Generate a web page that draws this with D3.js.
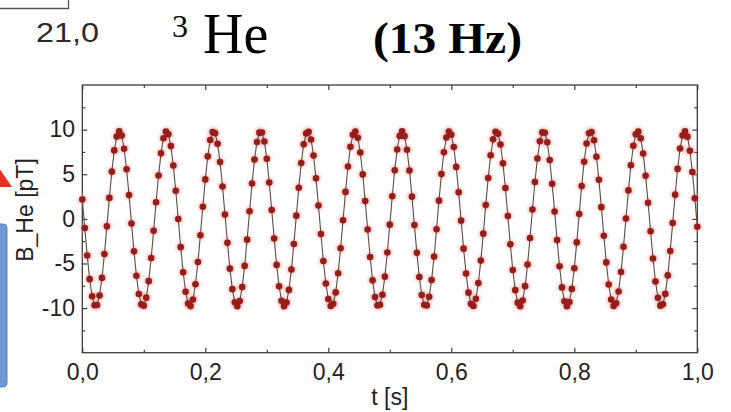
<!DOCTYPE html>
<html>
<head>
<meta charset="utf-8">
<script src="https://cdn.jsdelivr.net/npm/d3@7"></script>
<style>
  html, body { margin: 0; padding: 0; background: #fff; }
  svg { display: block; }
</style>
</head>
<body>
<svg id="chart" width="731" height="412"></svg>
<script>
// 3He precession signal, sampled every 4 ms (250 Hz) over one second
const sampleStep = 0.004;
const bHe = [
  2.17, -1.02, -4.10, -6.76, -8.68, -9.68, -9.65, -8.59, -6.62, -3.94, -0.84, 2.35, 5.29, 7.67, 9.22, 9.80, 9.33, 7.86, 5.56,
  2.66, -0.52, -3.64, -6.38, -8.43, -9.59, -9.73, -8.83, -6.98, -4.39, -1.34, 1.86, 4.86, 7.34, 9.04, 9.78, 9.47, 8.15, 5.97,
  3.15, -0.01, -3.17, -5.99, -8.17, -9.48, -9.78, -9.03, -7.33, -4.84, -1.84, 1.36, 4.42, 7.00, 8.84, 9.73, 9.59, 8.42, 6.36,
  3.62, 0.49, -2.69, -5.58, -7.88, -9.34, -9.80, -9.22, -7.65, -5.27, -2.33, 0.86, 3.96, 6.64, 8.61, 9.66, 9.68, 8.67, 6.73,
  4.08, 1.00, -2.20, -5.16, -7.56, -9.17, -9.80, -9.38, -7.96, -5.69, -2.82, 0.36, 3.49, 6.26, 8.35, 9.56, 9.75, 8.89, 7.09,
  4.54, 1.50, -1.70, -4.72, -7.24, -8.98, -9.77, -9.51, -8.24, -6.09, -3.30, -0.15, 3.02, 5.86, 8.08, 9.43, 9.79, 9.09, 7.43,
  4.98, 1.99, -1.20, -4.27, -6.89, -8.77, -9.71, -9.62, -8.50, -6.48, -3.77, -0.65, 2.53, 5.45, 7.78, 9.29, 9.80, 9.27, 7.75,
  5.41, 2.49, -0.70, -3.81, -6.52, -8.53, -9.63, -9.70, -8.74, -6.85, -4.23, -1.16, 2.04, 5.02, 7.46, 9.11, 9.79, 9.42, 8.05,
  5.82, 2.97, -0.20, -3.34, -6.13, -8.27, -9.52, -9.76, -8.96, -7.20, -4.68, -1.66, 1.54, 4.58, 7.12, 8.91, 9.75, 9.55, 8.33,
  6.22, 3.45, 0.31, -2.86, -5.73, -7.99, -9.39, -9.79, -9.15, -7.54, -5.12, -2.15, 1.04, 4.13, 6.77, 8.69, 9.69, 9.65, 8.58,
  6.60, 3.92, 0.81, -2.38, -5.31, -7.68, -9.23, -9.80, -9.32, -7.85, -5.54, -2.64, 0.54, 3.67, 6.40, 8.45, 9.60, 9.72, 8.81,
  6.96, 4.37, 1.31, -1.89, -4.88, -7.36, -9.05, -9.78, -9.46, -8.14, -5.95, -3.12, 0.04, 3.19, 6.01, 8.18, 9.48, 9.77, 9.02,
  7.31, 4.82, 1.81, -1.39, -4.44, -7.02, -8.85, -9.73, -9.58, -8.41, -6.34, -3.60, -0.47, 2.71, 5.60, 7.89, 9.34, 9.80, 9.21,
  7.64, 5.25, 2.31, -0.88
];

// axis ticks
const xTickValues = [0, 0.2, 0.4, 0.6, 0.8, 1.0];
const xTickLabels = ["0,0", "0,2", "0,4", "0,6", "0,8", "1,0"];
const xMinorTicks = [0.1, 0.3, 0.5, 0.7, 0.9];
const yTickValues = [-10, -5, 0, 5, 10];
const yTickLabels = ["-10", "-5", "0", "5", "10"];
const yMinorTicks = [-12.5, -7.5, -2.5, 2.5, 7.5, 12.5];

const svg = d3.select("#chart");
const plotLeft = 82.3, plotRight = 697.3, plotTop = 85, plotBottom = 352.7;

const x = d3.scaleLinear().domain([0, 1]).range([plotLeft, plotRight]);
const y = d3.scaleLinear().domain([-15, 15]).range([plotBottom, plotTop]);

const sansFont = "'Liberation Sans', Arial, sans-serif";
const serifFont = "'Liberation Serif', 'Times New Roman', serif";

// halo filter for the markers
const defs = svg.append("defs");
defs.append("filter").attr("id", "halo").attr("x", "-50%").attr("y", "-50%")
  .attr("width", "200%").attr("height", "200%")
  .append("feGaussianBlur").attr("stdDeviation", 1.6);

// fragments of neighbouring panel elements
svg.append("path")
  .attr("d", "M0,8.5 H68.5 V0")
  .attr("fill", "none").attr("stroke", "#555").attr("stroke-width", 1.3);
svg.append("text")
  .attr("x", 36).attr("y", 42)
  .attr("font-family", sansFont).attr("font-size", 27).attr("fill", "#2a2a2a")
  .attr("textLength", 63).attr("lengthAdjust", "spacingAndGlyphs")
  .text("21,0");
svg.append("path")
  .attr("d", "M-3,165 L12,187 L-3,187 Z")
  .attr("fill", "#e8321e");
svg.append("rect")
  .attr("x", -10).attr("y", 224).attr("width", 17).attr("height", 163).attr("rx", 4)
  .attr("fill", "#6f98d3").attr("stroke", "#5a82c0").attr("stroke-width", 1);

// title
svg.append("text")
  .attr("x", 172).attr("y", 37)
  .attr("font-family", serifFont).attr("font-size", 32).attr("fill", "#000")
  .text("3");
svg.append("text")
  .attr("x", 203).attr("y", 53)
  .attr("font-family", serifFont).attr("font-size", 56).attr("fill", "#000")
  .text("He");
svg.append("text")
  .attr("x", 373).attr("y", 53)
  .attr("font-family", serifFont).attr("font-size", 45).attr("font-weight", "bold").attr("fill", "#000")
  .attr("textLength", 149).attr("lengthAdjust", "spacingAndGlyphs")
  .text("(13 Hz)");

// axes: ticks point inward on all four sides
const axisColor = "#3c3c3c";
function styleAxis(g) {
  g.select(".domain").remove();
  g.selectAll(".tick line").attr("stroke", axisColor).attr("stroke-width", 1.2);
  g.selectAll(".tick text").attr("fill", "#222").attr("font-family", sansFont).attr("font-size", 23);
}

svg.append("g").attr("transform", `translate(0,${plotBottom})`)
  .call(d3.axisBottom(x).tickValues(xTickValues).tickSize(-5).tickPadding(11)
    .tickFormat((d, i) => xTickLabels[i]))
  .call(styleAxis);
svg.append("g").attr("transform", `translate(0,${plotBottom})`)
  .call(d3.axisBottom(x).tickValues(xMinorTicks).tickSize(-3).tickFormat(""))
  .call(styleAxis);
svg.append("g").attr("transform", `translate(0,${plotTop})`)
  .call(d3.axisTop(x).tickValues(xTickValues).tickSize(-5).tickFormat(""))
  .call(styleAxis);
svg.append("g").attr("transform", `translate(0,${plotTop})`)
  .call(d3.axisTop(x).tickValues(xMinorTicks).tickSize(-3).tickFormat(""))
  .call(styleAxis);

svg.append("g").attr("transform", `translate(${plotLeft},0)`)
  .call(d3.axisLeft(y).tickValues(yTickValues).tickSize(-5).tickPadding(7.3)
    .tickFormat((d, i) => yTickLabels[i]))
  .call(styleAxis);
svg.append("g").attr("transform", `translate(${plotLeft},0)`)
  .call(d3.axisLeft(y).tickValues(yMinorTicks).tickSize(-3).tickFormat(""))
  .call(styleAxis);
svg.append("g").attr("transform", `translate(${plotRight},0)`)
  .call(d3.axisRight(y).tickValues(yTickValues).tickSize(-5).tickFormat(""))
  .call(styleAxis);
svg.append("g").attr("transform", `translate(${plotRight},0)`)
  .call(d3.axisRight(y).tickValues(yMinorTicks).tickSize(-3).tickFormat(""))
  .call(styleAxis);

// frame
svg.append("rect")
  .attr("x", plotLeft).attr("y", plotTop)
  .attr("width", plotRight - plotLeft).attr("height", plotBottom - plotTop)
  .attr("fill", "none").attr("stroke", axisColor).attr("stroke-width", 1.3);

// axis titles
svg.append("text")
  .attr("transform", "translate(33,210) rotate(-90)")
  .attr("text-anchor", "middle")
  .attr("font-family", sansFont).attr("font-size", 23).attr("fill", "#222")
  .text("B_He [pT]");
svg.append("text")
  .attr("x", (plotLeft + plotRight) / 2).attr("y", 405)
  .attr("text-anchor", "middle")
  .attr("font-family", sansFont).attr("font-size", 23).attr("fill", "#222")
  .text("t [s]");

// signal trace
const line = d3.line()
  .x((d, i) => x(i * sampleStep))
  .y(d => y(d));

svg.append("g").attr("filter", "url(#halo)")
  .selectAll("circle").data(bHe).join("circle")
  .attr("cx", (d, i) => x(i * sampleStep)).attr("cy", d => y(d))
  .attr("r", 5).attr("fill", "#f19a9a").attr("opacity", 0.55);

svg.append("path")
  .datum(bHe)
  .attr("d", line)
  .attr("fill", "none").attr("stroke", "#5e4a44").attr("stroke-width", 1.1);

svg.append("g")
  .selectAll("circle").data(bHe).join("circle")
  .attr("cx", (d, i) => x(i * sampleStep)).attr("cy", d => y(d))
  .attr("r", 3.3).attr("fill", "#951e1a");
</script>
</body>
</html>
